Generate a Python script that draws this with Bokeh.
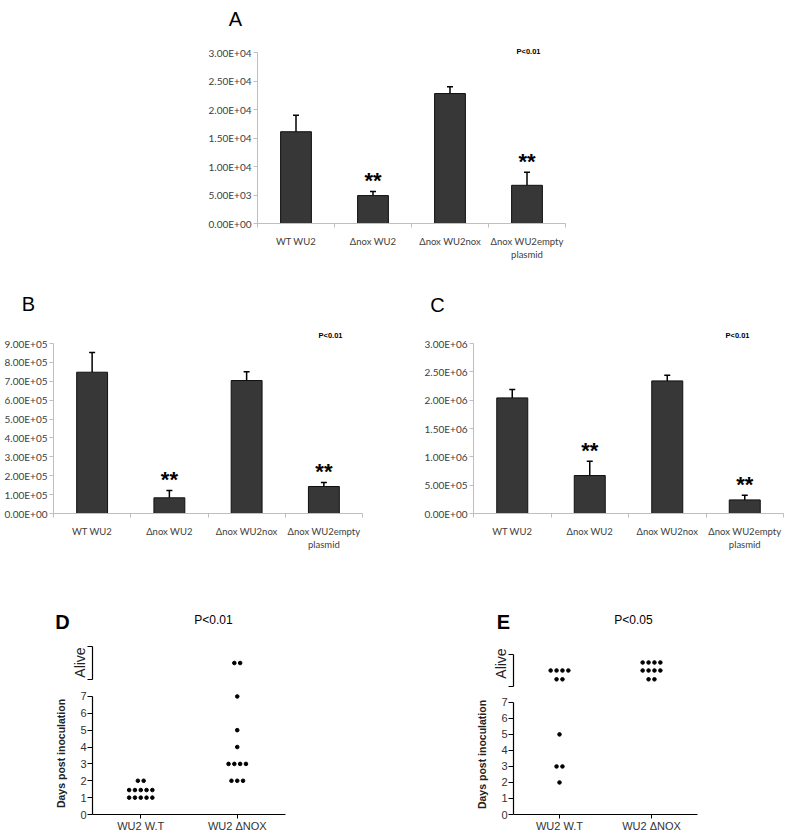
from bokeh.plotting import figure
from bokeh.layouts import column, row
from bokeh.models import FixedTicker, Whisker, Label, ColumnDataSource, TeeHead, Range1d
from bokeh.embed import file_html
from bokeh.resources import INLINE

# ---------------- data ----------------
bar_categories = ["WT WU2", "Δnox WU2", "Δnox WU2nox", "Δnox WU2empty\nplasmid"]

a_means = [16100, 4900, 22800, 6700]
a_err_tops = [19000, 5600, 24000, 9000]
a_ticks = [0, 5000, 10000, 15000, 20000, 25000, 30000]
a_signif = [False, True, False, True]

b_means = [748000, 83000, 704000, 143000]
b_err_tops = [852000, 122000, 750000, 164000]
b_ticks = [0, 100000, 200000, 300000, 400000, 500000, 600000, 700000, 800000, 900000]
b_signif = [False, True, False, True]

c_means = [2040000, 670000, 2340000, 240000]
c_err_tops = [2190000, 920000, 2440000, 320000]
c_ticks = [0, 500000, 1000000, 1500000, 2000000, 2500000, 3000000]
c_signif = [False, True, False, True]

bar_p_text = "P<0.01"

survival_groups = ["WU2 W.T", "WU2 ΔNOX"]
day_ticks = [0, 1, 2, 3, 4, 5, 6, 7]
alive_label = "Alive"
days_label = "Days post inoculation"

d_wt_days = [1, 1, 1, 1, 1, 1.45, 1.45, 1.45, 1.45, 1.45, 2, 2]
d_nox_days = [2, 2, 2, 3, 3, 3, 3, 4, 5, 7]
d_wt_alive = []
d_nox_alive = [9.0, 9.0]
d_p_text = "P<0.01"

e_wt_days = [2, 3, 3, 5]
e_nox_days = []
e_wt_alive = [9.0, 9.0, 9.0, 9.0, 8.45, 8.45]
e_nox_alive = [9.5, 9.5, 9.5, 9.5, 9.0, 9.0, 9.0, 9.0, 8.45, 8.45]
e_p_text = "P<0.05"

# ---------------- styles ----------------
EXCEL_GRAY = "#bfbfbf"
EXCEL_TEXT = "#404040"
XL_FONT = "Lato"
ARIAL = "Liberation Sans"


def mapper(ox, oy, w, h, bl, br, bt, bb, xr, yr):
    fx0, fx1 = ox + bl, ox + w - br
    fy0, fy1 = oy + bt, oy + h - bb

    def to_data(px, py):
        x = xr[0] + (px - fx0) / (fx1 - fx0) * (xr[1] - xr[0])
        y = yr[0] + (fy1 - py) / (fy1 - fy0) * (yr[1] - yr[0])
        return x, y
    return to_data


def base_fig(w, h, bl, br, bt, bb, xr, yr, **kw):
    p = figure(width=w, height=h, x_range=Range1d(*xr), y_range=Range1d(*yr),
               output_backend="svg", toolbar_location=None,
               min_border_left=bl, min_border_right=br,
               min_border_top=bt, min_border_bottom=bb, **kw)
    p.frame_align = False
    p.outline_line_color = None
    p.xgrid.visible = False
    p.ygrid.visible = False
    p.background_fill_color = None
    p.border_fill_color = None
    return p


def header_fig(ox, oy, w, h, items):
    """A text-only strip; ranges follow page pixels (y downwards)."""
    p = base_fig(w, h, 0, 0, 0, 0, (ox, ox + w), (oy + h, oy),
                 x_axis_location=None, y_axis_location=None)
    for text, px, py, size, style in items:
        p.add_layout(Label(x=px, y=py, text=text, text_align="center", text_baseline="middle",
                           text_font=ARIAL, text_font_style=style, text_font_size=size,
                           text_color="black"))
    return p


def bar_panel(letter, means, tops, ticks, signif, ox, oy, w, head_h, h, bl, br, bb,
              top_tick_px, letter_px, p_px):
    n = len(means)
    head = header_fig(ox, oy, w, head_h, [(letter, letter_px[0], letter_px[1], "20px", "normal")])
    fy_top = oy + head_h
    fy_bot = oy + head_h + h - bb
    y_end = ticks[-1] * (fy_bot - fy_top) / (fy_bot - top_tick_px)
    xr, yr = (0, n), (0, y_end)
    p = base_fig(w, h, bl, br, 0, bb, xr, yr)
    to_data = mapper(ox, oy + head_h, w, h, bl, br, 0, bb, xr, yr)
    xs = [i + 0.5 for i in range(n)]
    p.vbar(x=xs, bottom=0, top=means, width=0.4, fill_color="#373737",
           line_color="#101010", line_width=1)
    src = ColumnDataSource(dict(x=xs, lo=means, hi=tops))
    p.add_layout(Whisker(source=src, base="x", lower="lo", upper="hi",
                         line_color="black", line_width=1.5,
                         upper_head=TeeHead(size=6, line_color="black", line_width=1.5),
                         lower_head=None))
    for x, t, s in zip(xs, tops, signif):
        if s:
            p.add_layout(Label(x=x, y=t, y_offset=11, text="**", text_align="center",
                               text_baseline="alphabetic", text_font=ARIAL,
                               text_font_style="bold", text_font_size="22px",
                               text_color="black"))
    qx, qy = to_data(*p_px)
    p.add_layout(Label(x=qx, y=qy, text=bar_p_text, text_align="center", text_baseline="middle",
                       text_font=ARIAL, text_font_style="bold", text_font_size="7.5px",
                       text_color="black"))

    xa = p.xaxis[0]
    xa.ticker = FixedTicker(ticks=xs, minor_ticks=list(range(n + 1)))
    xa.major_label_overrides = {x: c for x, c in zip(xs, bar_categories)}
    xa.major_tick_line_color = None
    xa.major_tick_out = 0
    xa.major_tick_in = 0
    xa.minor_tick_in = 0
    xa.minor_tick_out = 4
    xa.minor_tick_line_color = EXCEL_GRAY
    xa.axis_line_color = EXCEL_GRAY
    xa.major_label_text_font = XL_FONT
    xa.major_label_text_font_size = "9.5px"
    xa.major_label_text_color = EXCEL_TEXT
    xa.major_label_standoff = 8

    ya = p.yaxis[0]
    ya.bounds = (0, ticks[-1])
    ya.ticker = FixedTicker(ticks=ticks)
    ya.major_label_overrides = {t: f"{t:.2E}" for t in ticks}
    ya.axis_line_color = EXCEL_GRAY
    ya.major_tick_line_color = EXCEL_GRAY
    ya.major_tick_out = 4
    ya.major_tick_in = 0
    ya.minor_tick_line_color = None
    ya.major_label_text_font = XL_FONT
    ya.major_label_text_font_size = "10px"
    ya.major_label_text_color = EXCEL_TEXT
    ya.major_label_standoff = 2
    return column(head, p, spacing=0)


def spread(center, values, step):
    counts = {}
    for v in values:
        counts[v] = counts.get(v, 0) + 1
    xs, ys = [], []
    for v, k in counts.items():
        for i in range(k):
            xs.append(center + (i - (k - 1) / 2) * step)
            ys.append(v)
    return xs, ys


def dot_panel(letter, ptext, wt_days, nox_days, wt_alive, nox_alive,
              ox, oy, w, h_head, h_alive, h_days, bl, br, alive_lo_px, alive_hi_px,
              axis_px, seven_px, letter_px, p_px, step_px):
    xr = (0, 2)
    frame_w = w - bl - br
    step = step_px / (frame_w / 2)
    centers = [0.5, 1.5]

    head = header_fig(ox, oy, w, h_head, [(letter, letter_px[0], letter_px[1], "20px", "bold"),
                                          (ptext, p_px[0], p_px[1], "12px", "normal")])

    # ---- alive (upper) part ----
    fy0 = oy + h_head
    fy1 = oy + h_head + h_alive
    ppu = (alive_lo_px - alive_hi_px) / 2.0
    yr_a = (8 - (fy1 - alive_lo_px) / ppu, 10 + (alive_hi_px - fy0) / ppu)
    pa = base_fig(w, h_alive, bl, br, 0, 0, xr, yr_a, x_axis_location=None)
    for c, vals in zip(centers, [wt_alive, nox_alive]):
        if vals:
            xs, ys = spread(c, vals, step)
            pa.scatter(xs, ys, size=3.6, color="black")
    ya = pa.yaxis[0]
    ya.bounds = (8, 10)
    ya.ticker = FixedTicker(ticks=[8, 10])
    ya.major_label_overrides = {8: "", 10: ""}
    ya.major_label_standoff = 0
    ya.major_tick_out = 5
    ya.major_tick_in = 0
    ya.axis_line_color = "black"
    ya.axis_line_width = 1.2
    ya.major_tick_line_color = "black"
    ya.major_tick_line_width = 1.2
    ya.axis_label = alive_label
    ya.axis_label_standoff = 0
    ya.axis_label_text_font = ARIAL
    ya.axis_label_text_font_style = "normal"
    ya.axis_label_text_font_size = "14px"
    ya.axis_label_text_color = "#222222"

    # ---- days (lower) part ----
    top_y = oy + h_head + h_alive
    bb = top_y + h_days - axis_px
    days_top = 2
    fy0d = top_y + days_top
    ppd = (axis_px - seven_px) / 7.0
    yr_d = (0, (axis_px - fy0d) / ppd)
    pd = base_fig(w, h_days, bl, br, days_top, bb, xr, yr_d)
    for c, vals in zip(centers, [wt_days, nox_days]):
        if vals:
            xs, ys = spread(c, vals, step)
            pd.scatter(xs, ys, size=3.6, color="black")
    yd = pd.yaxis[0]
    yd.bounds = (0, 7)
    yd.ticker = FixedTicker(ticks=day_ticks)
    yd.major_tick_out = 5
    yd.major_tick_in = 0
    yd.minor_tick_line_color = None
    yd.axis_line_color = "black"
    yd.axis_line_width = 1.2
    yd.major_tick_line_color = "black"
    yd.major_tick_line_width = 1.2
    yd.major_label_text_font = ARIAL
    yd.major_label_text_font_size = "11px"
    yd.major_label_text_color = "#333333"
    yd.major_label_standoff = 1
    yd.axis_label = days_label
    yd.axis_label_standoff = 10
    yd.axis_label_text_font = ARIAL
    yd.axis_label_text_font_style = "bold"
    yd.axis_label_text_font_size = "10.5px"
    yd.axis_label_text_color = "#222222"

    xd = pd.xaxis[0]
    xd.ticker = FixedTicker(ticks=centers)
    xd.major_label_overrides = {c: g for c, g in zip(centers, survival_groups)}
    xd.major_tick_out = 4
    xd.major_tick_in = 0
    xd.minor_tick_line_color = None
    xd.axis_line_color = "black"
    xd.axis_line_width = 1.2
    xd.major_tick_line_color = "black"
    xd.major_label_text_font = ARIAL
    xd.major_label_text_font_size = "11px"
    xd.major_label_text_color = "#333333"
    xd.major_label_standoff = 1
    return column(head, pa, pd, spacing=0)


colA = bar_panel("A", a_means, a_err_tops, a_ticks, a_signif,
                 0, 0, 787, 40, 225, 257, 222, 42, 52, (235, 18), (528, 51))
colB = bar_panel("B", b_means, b_err_tops, b_ticks, b_signif,
                 0, 265, 400, 55, 250, 53, 38, 57, 343, (28, 303), (330, 335))
colC = bar_panel("C", c_means, c_err_tops, c_ticks, c_signif,
                 400, 265, 387, 55, 250, 73, 4, 57, 343, (437, 304), (737, 335))

colD = dot_panel("D", d_p_text, d_wt_days, d_nox_days, d_wt_alive, d_nox_alive,
                 0, 570, 400, 64, 56, 144, 92, 115, 679, 646,
                 816, 696, (62, 621), (213, 619), 5.8)
colE = dot_panel("E", e_p_text, e_wt_days, e_nox_days, e_wt_alive, e_nox_alive,
                 400, 570, 387, 64, 58, 142, 113, 90, 686, 654,
                 816, 702, (503, 621), (633, 619), 5.9)

layout = column(colA, row(colB, colC, spacing=0), row(colD, colE, spacing=0), spacing=0)

open("out.html", "w").write(file_html(layout, INLINE))
